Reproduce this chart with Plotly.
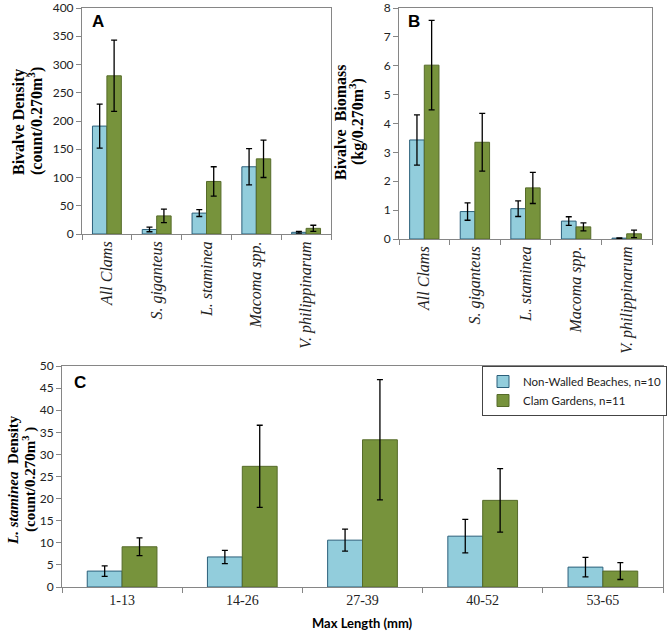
import plotly.graph_objects as go

# ---------------- data ----------------
species = ["All Clams", "S. giganteus", "L. staminea", "Macoma spp.", "V. philippinarum"]

density_nw = [191, 8, 37, 119, 3]
density_nw_err = [39, 4, 6, 32, 1.5]
density_cg = [280, 32, 93, 133, 10]
density_cg_err = [63, 12, 26, 33, 5.5]

biomass_nw = [3.43, 0.95, 1.05, 0.62, 0.03]
biomass_nw_err = [0.87, 0.30, 0.27, 0.15, 0.01]
biomass_cg = [6.02, 3.35, 1.77, 0.42, 0.18]
biomass_cg_err = [1.55, 1.00, 0.54, 0.14, 0.13]

length_classes = ["1-13", "14-26", "27-39", "40-52", "53-65"]
lst_nw = [3.6, 6.8, 10.6, 11.5, 4.5]
lst_nw_err = [1.2, 1.5, 2.5, 3.8, 2.2]
lst_cg = [9.1, 27.3, 33.3, 19.6, 3.6]
lst_cg_err = [2.0, 9.3, 13.6, 7.2, 1.9]

series_names = ["Non-Walled Beaches, n=10", "Clam Gardens, n=11"]

# ---------------- style ----------------
W, H = 667, 638
BLUE, BLUE_EDGE = "#92CDDC", "#2B5F7A"
GREEN, GREEN_EDGE = "#77933C", "#566B2A"
AXIS = "#868686"
SERIF = "Liberation Serif"
SANS = "Lato"


def px_x(p):
    return p / W


def px_y(p):
    return 1 - p / H


fig = go.Figure()


def add_pair(xvals, nw, nwe, cg, cge, xa, ya, legend):
    fig.add_trace(go.Bar(
        x=xvals, y=nw, name=series_names[0], xaxis=xa, yaxis=ya,
        marker=dict(color=BLUE, line=dict(color=BLUE_EDGE, width=1)),
        error_y=dict(type="data", array=nwe, color="black", thickness=1.3, width=3),
        showlegend=legend, legendgroup="nw"))
    fig.add_trace(go.Bar(
        x=xvals, y=cg, name=series_names[1], xaxis=xa, yaxis=ya,
        marker=dict(color=GREEN, line=dict(color=GREEN_EDGE, width=1)),
        error_y=dict(type="data", array=cge, color="black", thickness=1.3, width=3),
        showlegend=legend, legendgroup="cg"))


add_pair(species, density_nw, density_nw_err, density_cg, density_cg_err, "x", "y", False)
add_pair(species, biomass_nw, biomass_nw_err, biomass_cg, biomass_cg_err, "x2", "y2", False)
add_pair(length_classes, lst_nw, lst_nw_err, lst_cg, lst_cg_err, "x3", "y3", True)

common_x = dict(showline=True, linecolor=AXIS, linewidth=1, mirror=True,
                ticks="outside", tickson="boundaries", ticklen=5, tickcolor=AXIS,
                showgrid=False, zeroline=False, automargin=False)
common_y = dict(showline=True, linecolor=AXIS, linewidth=1, mirror=True,
                ticks="outside", ticklen=5, tickcolor=AXIS, showgrid=False,
                zeroline=False, automargin=False,
                tickfont=dict(family=SANS, size=12, color="#222"))

fig.update_layout(
    width=W, height=H, margin=dict(l=0, r=0, t=0, b=0, pad=0, autoexpand=False),
    paper_bgcolor="white", plot_bgcolor="white",
    barmode="group", bargap=0.42, bargroupgap=0,
    xaxis=dict(domain=[px_x(82), px_x(331)], anchor="y", tickangle=-90,
               tickfont=dict(family=SERIF, size=16, color="#222", style="italic"),
               **common_x),
    yaxis=dict(domain=[px_y(234), px_y(8)], anchor="x", range=[0, 400], dtick=50,
               **common_y),
    xaxis2=dict(domain=[px_x(399), px_x(652)], anchor="y2", tickangle=-90,
                tickfont=dict(family=SERIF, size=16, color="#222", style="italic"),
                **common_x),
    yaxis2=dict(domain=[px_y(239), px_y(8)], anchor="x2", range=[0, 8], dtick=1,
                **common_y),
    xaxis3=dict(domain=[px_x(62), px_x(663)], anchor="y3",
                tickfont=dict(family=SERIF, size=14, color="#222"),
                **common_x),
    yaxis3=dict(domain=[px_y(587), px_y(366)], anchor="x3", range=[0, 50], dtick=5,
                **common_y),
    legend=dict(x=px_x(482), y=px_y(366), xanchor="left", yanchor="top",
                bgcolor="white", bordercolor="#444", borderwidth=1,
                font=dict(family=SANS, size=11.5, color="#222"),
                tracegroupgap=0, itemwidth=30),
)

ann = [
    dict(text="<b>A</b>", x=px_x(90), y=px_y(22), xanchor="left", yanchor="middle",
         font=dict(family="Liberation Sans", size=17, color="black")),
    dict(text="<b>B</b>", x=px_x(406), y=px_y(22), xanchor="left", yanchor="middle",
         font=dict(family="Liberation Sans", size=17, color="black")),
    dict(text="<b>C</b>", x=px_x(72), y=px_y(382), xanchor="left", yanchor="middle",
         font=dict(family="Liberation Sans", size=17, color="black")),
    # panel A y title
    dict(text="<b>Bivalve Density</b>", x=px_x(19), y=px_y(122),
         textangle=-90, xanchor="center", yanchor="middle",
         font=dict(family=SERIF, size=16, color="black")),
    dict(text="<b>(count/0.270m<sup>3</sup>)</b>", x=px_x(35), y=px_y(121),
         textangle=-90, xanchor="center", yanchor="middle",
         font=dict(family=SERIF, size=16, color="black")),
    # panel B y title
    dict(text="<b>Bivalve  Biomass</b>", x=px_x(340), y=px_y(122),
         textangle=-90, xanchor="center", yanchor="middle",
         font=dict(family=SERIF, size=16, color="black")),
    dict(text="<b>(kg/0.270m<sup>3</sup>)</b>", x=px_x(356), y=px_y(122),
         textangle=-90, xanchor="center", yanchor="middle",
         font=dict(family=SERIF, size=16, color="black")),
    # panel C y title
    dict(text="<b><i>L. staminea</i>  Density</b>", x=px_x(13), y=px_y(480),
         textangle=-90, xanchor="center", yanchor="middle",
         font=dict(family=SERIF, size=15, color="black")),
    dict(text="<b>(count/0.270m<sup>3</sup> )</b>", x=px_x(29), y=px_y(480),
         textangle=-90, xanchor="center", yanchor="middle",
         font=dict(family=SERIF, size=15, color="black")),
    dict(text="<b>Max Length (mm)</b>", x=px_x(362), y=px_y(623),
         xanchor="center", yanchor="middle",
         font=dict(family=SANS, size=13, color="black")),
]
for a in ann:
    a.update(xref="paper", yref="paper", showarrow=False)
fig.update_layout(annotations=ann)

fig.write_html("out.html", config={"displayModeBar": False},
               post_script="document.body.style.margin='0';"
                           "document.documentElement.style.overflow='hidden';")
